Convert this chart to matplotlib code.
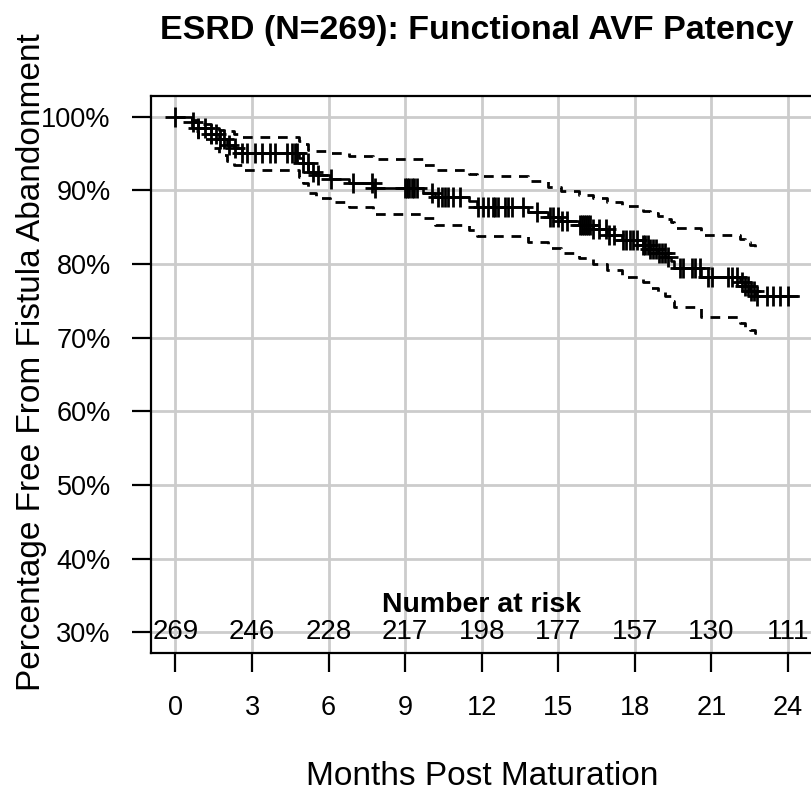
import matplotlib
matplotlib.use('Agg')
import matplotlib.pyplot as plt
import numpy as np

plt.rcParams['font.family'] = ['Liberation Sans', 'DejaVu Sans']

# Kaplan-Meier estimate: time of each drop and survival after it
event_t = [0, 0.65, 0.9, 1.4, 1.7, 2.0, 2.3, 2.6, 4.85, 5.0, 5.2, 5.5, 6.05, 6.8,
           7.75, 9.7, 10.15, 11.5, 11.8, 13.8, 14.6, 15.1, 15.8, 16.35, 16.9, 17.5,
           18.3, 18.6, 18.9, 19.2, 19.4, 19.55, 20.6, 22.1, 22.3, 22.5, 22.7]
surv = [1.0, 0.993, 0.985, 0.976, 0.969, 0.962, 0.957, 0.951, 0.944, 0.937, 0.925,
        0.921, 0.915, 0.910, 0.903, 0.897, 0.891, 0.885, 0.878, 0.871, 0.864, 0.858,
        0.853, 0.847, 0.840, 0.832, 0.826, 0.820, 0.815, 0.810, 0.804, 0.795, 0.782,
        0.776, 0.770, 0.763, 0.756]
last_t = 24.4

# 95% confidence band (same step times)
upper = [1.0, 0.995, 0.990, 0.985, 0.982, 0.980, 0.976, 0.973, 0.967, 0.963, 0.955,
         0.953, 0.950, 0.946, 0.942, 0.935, 0.927, 0.922, 0.919, 0.913, 0.905, 0.899,
         0.894, 0.890, 0.884, 0.879, 0.872, 0.869, 0.865, 0.861, 0.857, 0.849, 0.840,
         0.834, 0.830, 0.826, 0.822]
lower = [1.0, 0.980, 0.970, 0.958, 0.948, 0.940, 0.935, 0.928, 0.918, 0.910, 0.896,
         0.890, 0.884, 0.878, 0.868, 0.862, 0.853, 0.846, 0.838, 0.830, 0.822, 0.815,
         0.808, 0.800, 0.792, 0.783, 0.775, 0.768, 0.762, 0.756, 0.750, 0.742, 0.728,
         0.720, 0.714, 0.710, 0.707]
ci_last_t = 22.8

censor_t = [0.0, 0.67, 0.9, 1.14, 1.4, 1.57, 1.73, 1.92, 2.1, 2.35, 2.6, 2.8, 3.1, 3.37,
            3.7, 3.9, 4.35, 4.55, 4.67, 4.75, 5.0, 5.18, 5.37, 5.57, 6.1, 6.94, 7.7,
            7.8, 9.0, 9.08, 9.16, 9.25, 9.33, 9.45, 10.04, 10.27, 10.43, 10.55, 10.67,
            10.86, 11.14, 11.84, 12.04, 12.24, 12.43, 12.51, 12.63, 12.9, 13.02, 13.18,
            13.6, 14.16, 14.67, 14.78, 14.98, 15.14, 15.33, 15.84, 15.92, 16.0, 16.08,
            16.16, 16.24, 16.35, 16.6, 16.85, 17.0, 17.2, 17.53, 17.65, 17.8, 17.92,
            18.1, 18.3, 18.4, 18.52, 18.6, 18.7, 18.82, 18.94, 19.06, 19.18, 19.3,
            19.76, 19.88, 20.24, 20.35, 20.55, 20.86, 21.02, 21.65, 21.8, 22.0, 22.2,
            22.32, 22.44, 22.56, 22.68, 22.78, 23.18, 23.41, 23.69, 24.0]

risk_t = [0, 3, 6, 9, 12, 15, 18, 21, 24]
risk_n = [269, 246, 228, 217, 198, 177, 157, 130, 111]
y_ticks = [0.3, 0.4, 0.5, 0.6, 0.7, 0.8, 0.9, 1.0]

fig = plt.figure(figsize=(8.12, 7.91), dpi=100)
ax = fig.add_axes([151 / 812, 1 - 653 / 791, 661.5 / 812, 557 / 791])

for t in risk_t:
    ax.axvline(t, color='#cccccc', lw=2, zorder=0)
for y in y_ticks:
    ax.axhline(y, color='#cccccc', lw=2, zorder=0)


def step_xy(ts, vs, end):
    return np.append(ts, end), np.append(vs, vs[-1])


x, y = step_xy(event_t, surv, last_t)
ax.step(x, y, where='post', color='black', lw=1.9)
x, y = step_xy(event_t, upper, ci_last_t)
ax.step(x, y, where='post', color='black', lw=2.0, ls=(0, (3.5, 2.8)))
x, y = step_xy(event_t, lower, ci_last_t)
ax.step(x, y, where='post', color='black', lw=2.0, ls=(0, (3.5, 2.8)))

idx = np.searchsorted(event_t, censor_t, side='right') - 1
cy = np.array(surv)[idx]
ax.plot(censor_t, cy, ls='none', marker='+', ms=15, mew=2.0, color='black')

for t, n in zip(risk_t, risk_n):
    ax.text(t, 0.3, str(n), ha='center', va='center', fontsize=20)
ax.text(12, 0.337, 'Number at risk', ha='center', va='center', fontsize=20.5,
        fontweight='bold')

ax.set_xlim(-0.96, 24.96)
ax.set_ylim(0.272, 1.028)
ax.set_xticks(risk_t)
ax.set_yticks(y_ticks)
ax.set_yticklabels(['%d%%' % round(v * 100) for v in y_ticks])
ax.tick_params(length=13.5, width=1.6, labelsize=19.5, pad=15.5)
ax.tick_params(axis='x', pad=17)
for s in ax.spines.values():
    s.set_linewidth(1.6)

ax.set_xlabel('Months Post Maturation', fontsize=24)
ax.xaxis.set_label_coords(0.5, -0.222)
ax.xaxis.label.set_va('center')
ax.set_ylabel('Percentage Free From Fistula Abandonment', fontsize=24)
ax.yaxis.set_label_coords(-0.18, 0.522)
ax.yaxis.label.set_va('center')

fig.text(476.5 / 812, 1 - 30 / 791, 'ESRD (N=269): Functional AVF Patency',
         ha='center', va='center', fontsize=24.5, fontweight='bold')

fig.savefig('out.png', dpi=100)
